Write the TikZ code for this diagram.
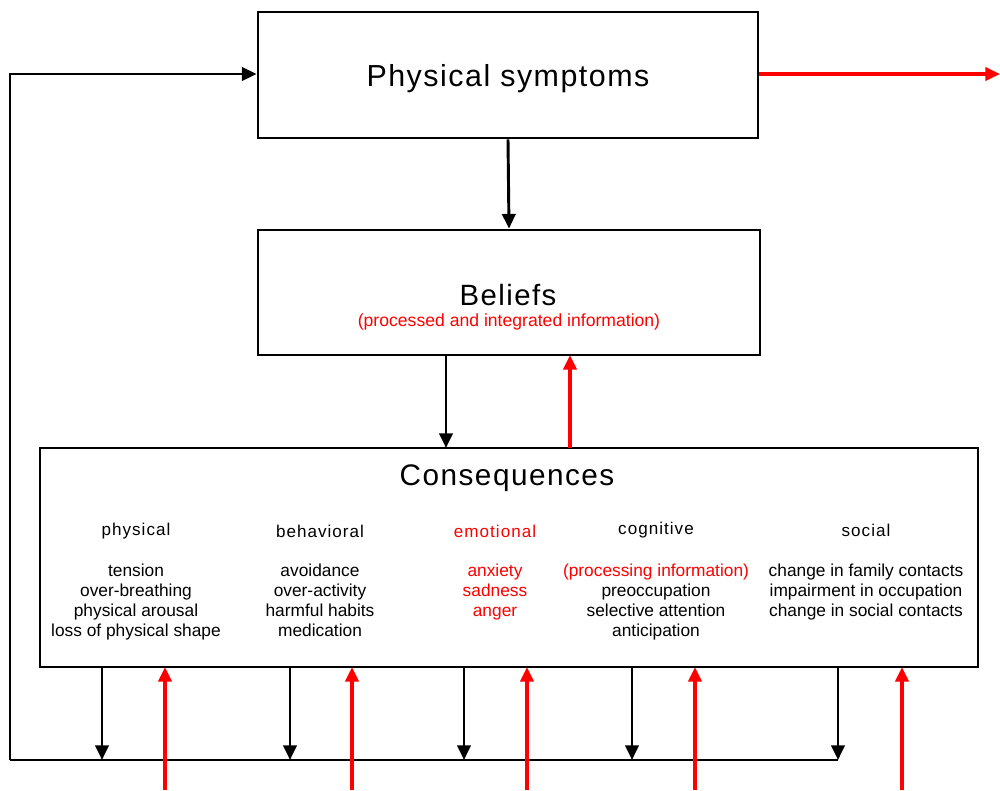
\documentclass[tikz,border=0pt]{standalone}
\usepackage{fontspec}
\setmainfont{Liberation Sans}
\usetikzlibrary{arrows.meta}
\begin{document}
\begin{tikzpicture}[x=0.75pt,y=-0.75pt,
  box/.style={draw,line width=2.1pt},
  blk/.style={line width=2.2pt,-{Triangle[length=11pt,width=10pt]}},
  redarr/.style={red,line width=2.3pt,-{Triangle[length=11pt,width=10pt]}},
  col/.style={align=center,font=\fontsize{13}{15}\selectfont},
  hd/.style={font=\fontsize{12.8}{15}\selectfont\addfontfeatures{LetterSpace=6}}]
\useasboundingbox (0,0) rectangle (1000,790);
\node[box,minimum width=500*0.75pt,minimum height=126*0.75pt] (ps) at (508,75) {};
\node[font=\fontsize{22.8}{26}\selectfont\addfontfeatures{LetterSpace=5}] (pst) at (508,79) {Physical symptoms};
\node[box,minimum width=502*0.75pt,minimum height=125*0.75pt] (bel) at (509,292.5) {};
\node[font=\fontsize{22}{26}\selectfont\addfontfeatures{LetterSpace=5}] (belt) at (508,295) {Beliefs};
\node[red,font=\fontsize{13.2}{15}\selectfont] (belsub) at (509,322) {(processed and integrated information)};
\node[box,minimum width=938*0.75pt,minimum height=219*0.75pt] (con) at (509,557.5) {};
\node[font=\fontsize{22.3}{26}\selectfont\addfontfeatures{LetterSpace=5}] (cont) at (507,478) {Consequences};
% column headers
\node[hd] (h1) at (136,531) {physical};
\node[hd] (h2) at (320,531) {behavioral};
\node[hd,red] (h3) at (495,531) {emotional};
\node[hd] (h4) at (656,530) {cognitive};
\node[hd] (h5) at (866,530) {social};
% column items
\node[col,anchor=north] (c1) at (136,559) {tension\\over-breathing\\physical arousal\\loss of physical shape};
\node[col,anchor=north] (c2) at (320,559) {avoidance\\over-activity\\harmful habits\\medication};
\node[col,anchor=north,red] (c3) at (495,559) {anxiety\\sadness\\anger};
\node[col,anchor=north] (c4) at (656,559) {\textcolor{red}{(processing information)}\\preoccupation\\selective attention\\anticipation};
\node[col,anchor=north] (c5) at (866,559) {change in family contacts\\impairment in occupation\\change in social contacts};
% main arrows
\draw[blk] (ps.south) -- (bel.north);
\draw[blk] (446,355) -- (446,448);
\draw[redarr] (570,448) -- (570,355);
\coordinate (rout) at (1000,74);
\draw[redarr] (ps.east |- 0,74) -- (rout);
% feedback loop
\coordinate (bl) at (10,760);
\coordinate (br) at (838,760);
\coordinate (tl) at (10,74);
\draw[line width=2.2pt] (bl) -- (br);
\draw[blk] (bl) -- (tl) -- (ps.west |- tl);
% bottom arrows
\foreach \x in {102,290,464,632,838}{
  \draw[blk] (\x,667) -- (\x,760);
}
\foreach \x in {165,352,527,695,902}{
  \draw[redarr] (\x,790) -- (\x,667);
}
\end{tikzpicture}
\end{document}
